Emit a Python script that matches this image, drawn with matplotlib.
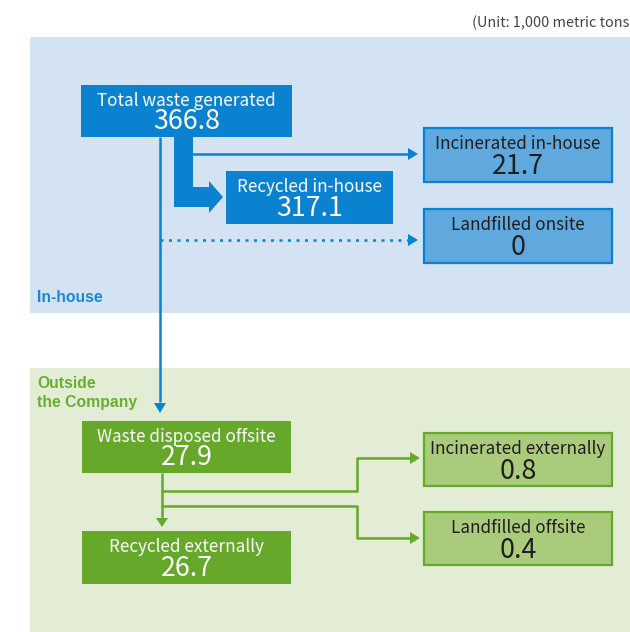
import matplotlib.pyplot as plt
from matplotlib.patches import Rectangle, Polygon

plt.rcParams['font.family'] = ['Noto Sans CJK JP', 'DejaVu Sans']

# Waste flow figures (1,000 metric tons)
inhouse_labels = ["Total waste generated", "Recycled in-house", "Incinerated in-house", "Landfilled onsite"]
inhouse_values = [366.8, 317.1, 21.7, 0]
outside_labels = ["Waste disposed offsite", "Recycled externally", "Incinerated externally", "Landfilled offsite"]
outside_values = [27.9, 26.7, 0.8, 0.4]

BLUE = '#0a82cf'
BLUE_LIGHT = '#5fa9de'
BLUE_BG = '#d3e3f3'
GREEN = '#65a82a'
GREEN_LIGHT = '#a9cb7b'
GREEN_BG = '#e3edd6'


def fmt(v):
    return str(v) if v != 0 else "0"


def box(ax, x0, y0, x1, y1, label, value, fill, edge=None, dark=True):
    if edge is None:
        ax.add_patch(Rectangle((x0, y0), x1 - x0, y1 - y0, facecolor=fill, edgecolor='none'))
    else:
        ax.add_patch(Rectangle((x0 + 1, y0 + 1), x1 - x0 - 2, y1 - y0 - 2,
                               facecolor=fill, edgecolor=edge, linewidth=1.6))
    col = 'white' if dark else '#1e1e1e'
    cx = (x0 + x1) / 2
    h = y1 - y0
    ax.text(cx, y0 + 0.31 * h, label, color=col, fontsize=12.3, ha='center', va='center')
    ax.text(cx, y0 + 0.71 * h, fmt(value), color=col, fontsize=19.3, ha='center', va='center')


def head(ax, tip, direction, color, length=10, width=12):
    x, y = tip
    if direction == 'right':
        pts = [(x, y), (x - length, y - width / 2), (x - length, y + width / 2)]
    else:  # down
        pts = [(x, y), (x - width / 2, y - length), (x + width / 2, y - length)]
    ax.add_patch(Polygon(pts, closed=True, facecolor=color, edgecolor='none'))


fig = plt.figure(figsize=(6.3, 6.32), dpi=100)
ax = fig.add_axes([0, 0, 1, 1])
ax.set_xlim(0, 630)
ax.set_ylim(632, 0)
ax.axis('off')

# background zones
ax.add_patch(Rectangle((30, 37), 600, 276, facecolor=BLUE_BG, edgecolor='none'))
ax.add_patch(Rectangle((30, 368), 600, 264, facecolor=GREEN_BG, edgecolor='none'))

ax.text(629, 23, "(Unit: 1,000 metric tons", fontsize=10.4, color='#444444', va='center', ha='right')
ax.text(37, 297, "In-house", fontsize=11.3, fontweight='bold', color='#1a88d2', va='center',
        family=['Liberation Sans'])
ax.text(37, 393, "Outside\nthe Company", fontsize=11.3, fontweight='bold', color='#6aae2f',
        va='center', linespacing=1.4, family=['Liberation Sans'])

# in-house flows
ax.plot([160, 160], [137, 402], color=BLUE, lw=1.8, solid_capstyle='butt')
head(ax, (160, 413), 'down', BLUE)
ax.plot([192, 408], [154, 154], color=BLUE, lw=1.8, solid_capstyle='butt')
head(ax, (418, 154), 'right', BLUE)
ax.plot([160, 408], [240, 240], color=BLUE, lw=1.8, linestyle=(0, (1.2, 2.2)))
head(ax, (418, 240), 'right', BLUE)
thick = [(174, 137), (193, 137), (193, 187), (209, 187), (209, 181), (223, 197),
         (209, 213), (209, 207), (174, 207)]
ax.add_patch(Polygon(thick, closed=True, facecolor=BLUE, edgecolor='none'))

# outside flows
ax.plot([162, 162], [473, 518], color=GREEN, lw=1.8, solid_capstyle='butt')
head(ax, (162, 527), 'down', GREEN, length=9)
ax.plot([162, 357, 357, 410], [491, 491, 458, 458], color=GREEN, lw=1.8)
head(ax, (420, 458), 'right', GREEN)
ax.plot([162, 357, 357, 410], [506, 506, 538, 538], color=GREEN, lw=1.8)
head(ax, (420, 538), 'right', GREEN)

# boxes
box(ax, 81, 85, 292, 137, inhouse_labels[0], inhouse_values[0], BLUE)
box(ax, 226, 171, 393, 224, inhouse_labels[1], inhouse_values[1], BLUE)
box(ax, 423, 127, 613, 183, inhouse_labels[2], inhouse_values[2], BLUE_LIGHT, BLUE, dark=False)
box(ax, 423, 208, 613, 264, inhouse_labels[3], inhouse_values[3], BLUE_LIGHT, BLUE, dark=False)

box(ax, 82, 421, 291, 473, outside_labels[0], outside_values[0], GREEN)
box(ax, 82, 531, 291, 584, outside_labels[1], outside_values[1], GREEN)
box(ax, 423, 432, 613, 487, outside_labels[2], outside_values[2], GREEN_LIGHT, GREEN, dark=False)
box(ax, 423, 511, 613, 566, outside_labels[3], outside_values[3], GREEN_LIGHT, GREEN, dark=False)

fig.savefig('out.png', dpi=100)
